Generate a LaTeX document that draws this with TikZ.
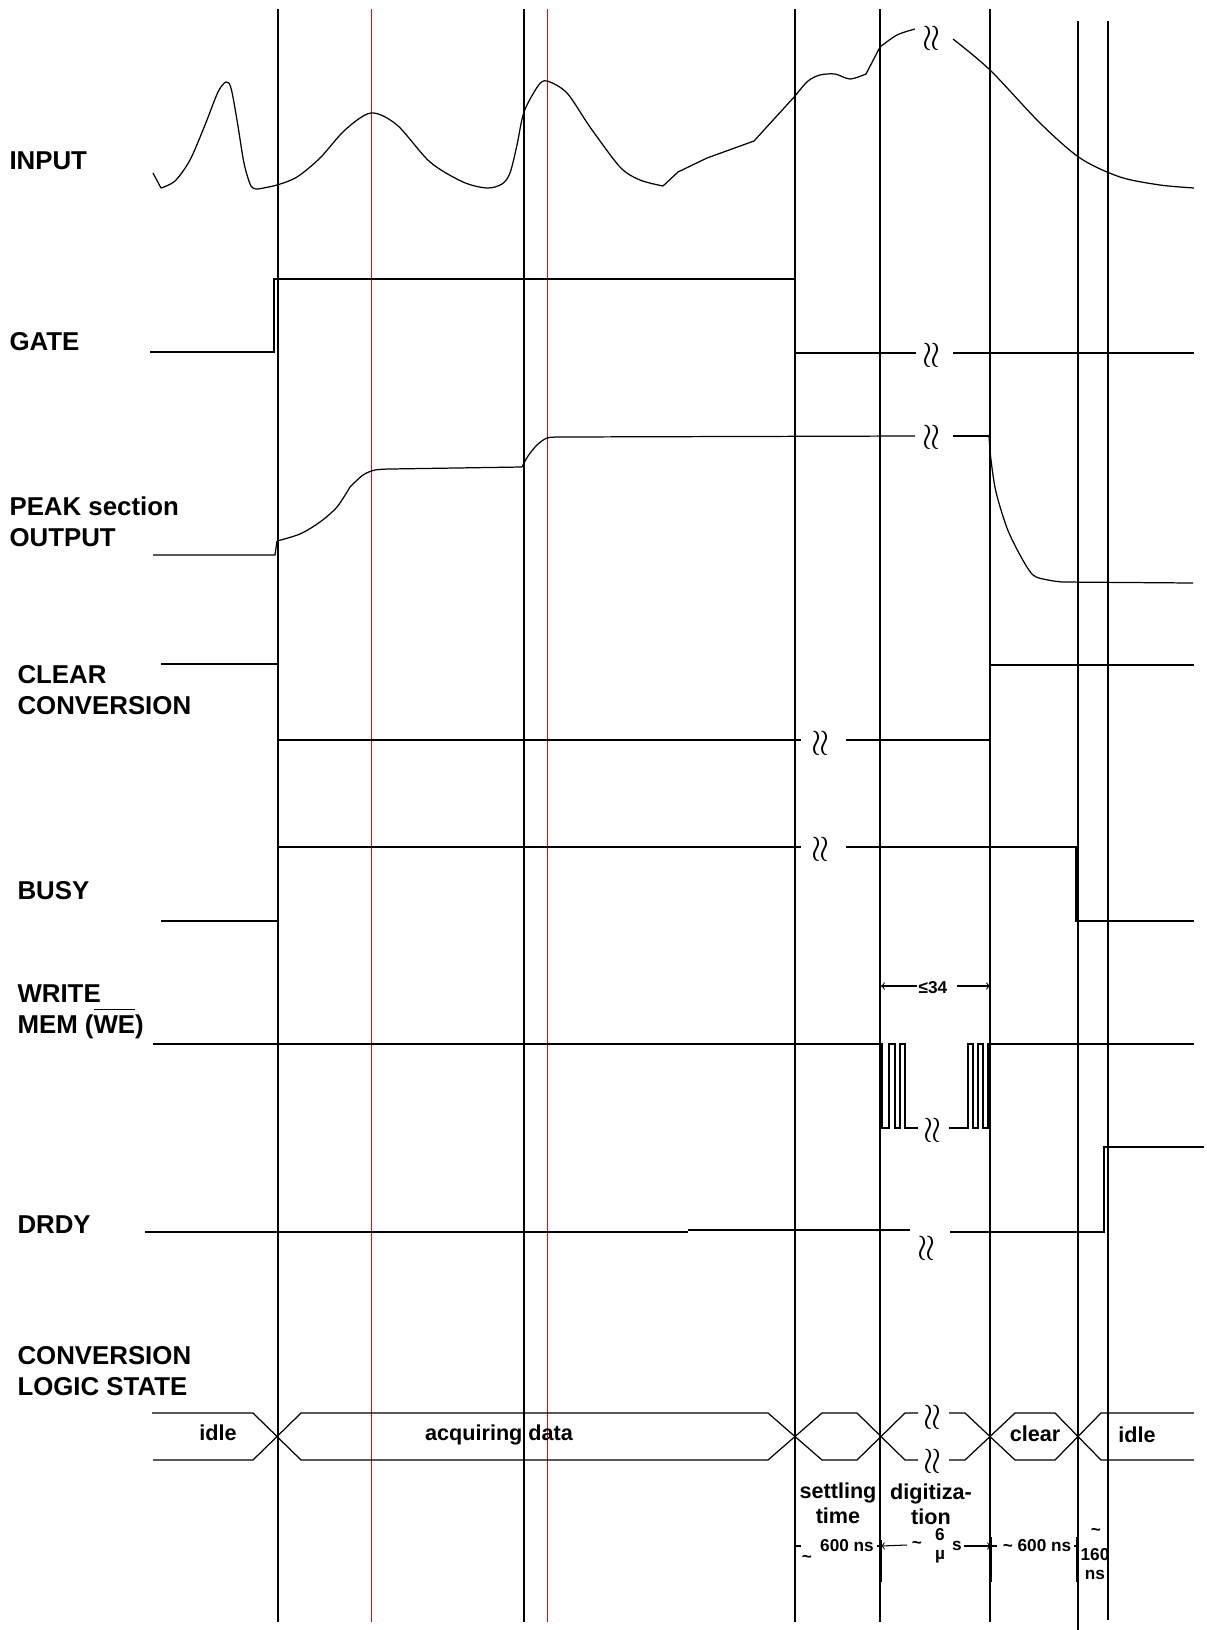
\documentclass[tikz,border=0pt]{standalone}
\usepackage{fontspec}
\setmainfont{Liberation Sans}
\newcommand\wbar[1]{\vbox{\hrule height 0.6pt\kern 3.5pt\hbox{#1}}}
\newcommand\squig{$\mathord{\wr}\mkern-1mu\mathord{\wr}$}
\begin{document}
\begin{tikzpicture}[x=0.02cm,y=-0.02cm,line width=0.6pt,>=to,
  sig/.style={line width=0.7pt},
  lbl/.style={anchor=west,align=left,inner sep=0pt,font=\fontsize{14.7}{17.7}\selectfont\bfseries},
  state/.style={inner sep=0pt,align=center,font=\fontsize{12.3}{14.2}\selectfont\bfseries},
  dim/.style={inner sep=0pt,align=center,font=\fontsize{9.8}{11}\selectfont\bfseries},
  brk/.style={inner sep=0pt,font=\fontsize{22}{22}\selectfont}]
\useasboundingbox (0,0) rectangle (1207,1630);
\foreach \x in {278,524,795,880,990} \draw (\x,9) -- (\x,1622);
\foreach \x in {371,547} \draw[red,line width=0.5pt] (\x,9) -- (\x,1622);
\draw (1078,21) -- (1078,1630);
\draw (1108,21) -- (1108,1620);
\node[lbl] (input) at (9,161) {INPUT};
\node[lbl] (gate) at (9,342) {GATE};
\node[lbl] (peak) at (9,522) {PEAK section\\OUTPUT};
\node[lbl] (clear) at (17,690) {CLEAR\\CONVERSION};
\node[lbl] (busy) at (17,891) {BUSY};
\node[lbl] (we) at (17,1012) {WRITE\\MEM (\wbar{WE})};
\node[lbl] (drdy) at (17,1225) {DRDY};
\node[lbl] (cls) at (17,1371) {CONVERSION\\LOGIC STATE};
\draw[sig] (153,173) -- (161,188);
\draw[sig] plot[smooth] coordinates {(161,188) (175,181) (190,160) (205,125) (218,92) (226,82) (231,88) (237,120) (244,163) (251,186) (258,189)};
\draw[sig] plot[smooth] coordinates {(258,189) (277,185) (297,177) (320,158) (345,130) (371,113) (397,125) (430,162) (463,182) (487,188) (502,184) (510,173) (517,145) (524,112) (538,86) (547,81) (567,93) (590,127) (620,167) (640,180) (663,186)};
\draw[sig] (663,186) -- (678,172) -- (707,158) -- (754,141) -- (795,96);
\draw[sig] plot[smooth] coordinates {(795,96) (808,81) (820,75) (835,74) (850,79) (866,74)} -- (880,47);
\draw[sig] plot[smooth] coordinates {(880,47) (897,35) (915,29)};
\draw[sig] plot[smooth] coordinates {(953,39) (990,70) (1040,123) (1080,158) (1120,177) (1160,185) (1194,188)};
\node[brk] (w1) at (932,38) {\squig};
\draw[sig] (150,352) -- (274,352) -- (274,279) -- (795,279) -- (795,353) -- (916,353);
\draw[sig] (953,353) -- (1194,353);
\node[brk] (w2) at (932,355) {\squig};
\draw[sig] (153,555) -- (275,555) -- (277,541);
\draw[sig] plot[smooth] coordinates {(277,541) (300,534) (320,522) (337,507) (350,487)};
\draw[sig] plot[smooth] coordinates {(350,487) (363,475) (375,470) (390,469)} -- (522,467);
\draw[sig] plot[smooth] coordinates {(522,467) (528,456) (537,445) (547,438) (560,437)} -- (915,436);
\draw[sig] (953,436) -- (989,436);
\draw[sig] plot[smooth] coordinates {(989,436) (991,460) (996,492) (1007,528) (1020,555) (1033,575) (1048,580) (1062,582)} -- (1193,583);
\node[brk] (w3) at (932,437) {\squig};
\draw[sig] (161,664) -- (278,664) -- (278,740) -- (801,740);
\draw[sig] (846,740) -- (990,740) -- (990,665) -- (1194,665);
\node[brk] (w4) at (821,743) {\squig};
\draw[sig] (161,921) -- (278,921) -- (278,847) -- (801,847);
\draw[sig] (846,847) -- (1076,847) -- (1076,921) -- (1194,921);
\node[brk] (w5) at (821,849) {\squig};
\draw[sig] (153,1044) -- (882,1044) -- (882,1128) -- (889,1128) -- (889,1044) -- (895,1044) -- (895,1128) -- (900,1128) -- (900,1044) -- (905,1044) -- (905,1128) -- (918,1128);
\draw[sig] (949,1128) -- (968,1128) -- (968,1044) -- (973,1044) -- (973,1128) -- (978,1128) -- (978,1044) -- (983,1044) -- (983,1128) -- (988,1128) -- (988,1044) -- (1194,1044);
\node[brk] (w6) at (933,1130) {\squig};
\node[dim] (le) at (933,988) {≤34};
\coordinate (leL) at (881,986);
\coordinate (leR) at (990,986);
\draw[->] (le) ++(-16,-2) -- (leL);
\draw[->] (le) ++(24,-2) -- (leR);
\draw[line width=1.2pt] (145,1232) -- (688,1232);
\draw[sig] (688,1230) -- (910,1230);
\draw[sig] (950,1232) -- (1104,1232) -- (1104,1147) -- (1204,1147);
\node[brk] (w7) at (927,1248) {\squig};
\draw[sig] (152,1413) -- (253,1413) -- (301,1460) -- (768,1460) -- (822,1413) -- (857,1413) -- (905,1460) -- (918,1460);
\draw[sig] (949,1460) -- (965,1460) -- (1015,1413) -- (1055,1413) -- (1101,1460) -- (1194,1460);
\draw[sig] (153,1460) -- (253,1460) -- (301,1413) -- (768,1413) -- (822,1460) -- (857,1460) -- (905,1413) -- (918,1413);
\draw[sig] (949,1413) -- (965,1413) -- (1015,1460) -- (1055,1460) -- (1101,1413) -- (1194,1413);
\node[brk] (w8) at (933,1417) {\squig};
\node[brk] (w9) at (933,1461) {\squig};
\node[state] (idle1) at (218,1433) {idle};
\node[state] (acq) at (499,1435) {acquiring data};
\node[state] (clr) at (1035,1434) {clear};
\node[state] (idle2) at (1137,1435) {idle};
\node[state] (settle) at (838,1503) {settling\\time};
\node[state] (digit) at (931,1504) {digitiza-\\tion};
\foreach \x/\t in {795/1535,881/1540,991/1537,1077/1537} \draw[line width=1.1pt] (\x,\t) -- (\x,1582);
\node[dim] (t1) at (807,1559) {\textasciitilde};
\node[dim] (ns1) at (847,1546) {600 ns};
\node[dim] (t2) at (917,1545) {\textasciitilde};
\node[dim] (six) at (940,1535) {6};
\node[dim] (mu) at (940,1557) {µ};
\node[dim] (sec) at (957,1546) {s};
\node[dim] (ns2) at (1037,1546) {\textasciitilde{} 600 ns};
\node[dim] (t3) at (1096,1532) {\textasciitilde};
\node[dim] (ns3) at (1095,1564) {160\\ns};
\coordinate (dC) at (795,1546);
\coordinate (dD) at (881,1546);
\coordinate (dE) at (991,1546);
\coordinate (dF) at (1077,1546);
\draw (dC) -- ++(6,0);
\draw (ns1.east) ++(3,0) -- (dD);
\draw[->] (t2) ++(-10,0) -- (dD);
\draw[->] (sec) ++(7,0) -- (dE);
\draw (dE) -- ++(6,0);
\draw (ns2.east) ++(2,0) -- (dF);
\end{tikzpicture}
\end{document}
